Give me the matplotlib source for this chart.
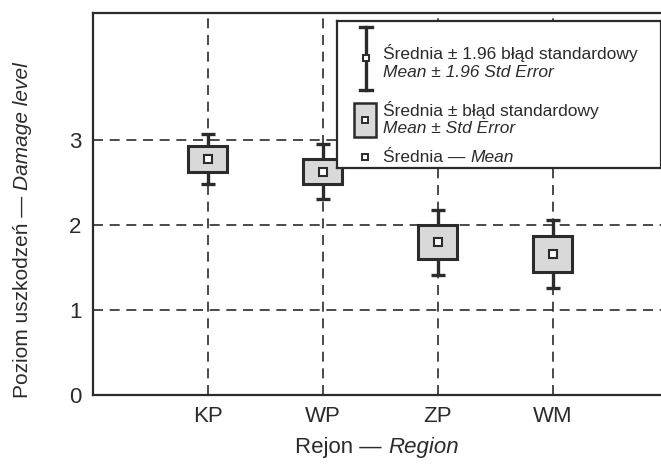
import numpy as np
import matplotlib
matplotlib.use("Agg")
import matplotlib.pyplot as plt
from matplotlib.patches import Rectangle

plt.rcParams['font.family'] = ['Liberation Sans', 'DejaVu Sans']

# dane
regiony = ["KP", "WP", "ZP", "WM"]
srednia = [2.78, 2.63, 1.80, 1.66]
blad_std = [0.15, 0.15, 0.20, 0.21]
blad_196 = [0.29, 0.32, 0.38, 0.40]
y_ticks = [0, 1, 2, 3]

kolor = "#2b2b2b"
szary = "#d9d9d9"
W, H = 661, 465

fig = plt.figure(figsize=(W / 100, H / 100), dpi=100)
ax = fig.add_axes([0.1402, 0.1499, 0.8598, 0.8211])
renderer = fig.canvas.get_renderer()

x = np.arange(1, len(regiony) + 1)

# siatka przerywana
for yy in y_ticks[1:]:
    ax.axhline(yy, color=kolor, lw=1.2, ls=(0, (6, 4)), zorder=1)
for xx in x:
    ax.axvline(xx, color=kolor, lw=1.2, ls=(0, (6, 4)), zorder=1)

# wasy +- 1.96 SE
ax.errorbar(x, srednia, yerr=blad_196, fmt="none", ecolor=kolor,
            elinewidth=2.4, capsize=4.7, capthick=2.4, zorder=3)

# pudelka +- SE
szer = 0.34
for xi, m, s in zip(x, srednia, blad_std):
    ax.add_patch(Rectangle((xi - szer / 2, m - s), szer, 2 * s,
                           facecolor=szary, edgecolor=kolor, lw=2.2, zorder=4))

# srednia
ax.plot(x, srednia, "s", ms=6, mfc="white", mec=kolor, mew=1.5, zorder=5)

ax.set_xlim(0, 4.94)
ax.set_ylim(0, 4.49)
ax.set_xticks(x)
ax.set_xticklabels(regiony)
ax.set_yticks(y_ticks)
ax.tick_params(length=0, labelsize=16, colors=kolor, pad=8)
for sp in ["left", "bottom", "top"]:
    ax.spines[sp].set_color(kolor)
    ax.spines[sp].set_linewidth(1.6)
ax.spines["right"].set_visible(False)


def tekst_mieszany(cx, cy, czesci, fs, rot=0):
    """Tekst z czescia prosta i kursywa, wysrodkowany w pikselach (cx, cy)."""
    arty = [fig.text(0, 0, t, fontsize=fs, color=kolor, style=st, rotation=rot,
                     ha="left", va="center", rotation_mode="anchor")
            for t, st in czesci]
    dl = []
    for a in arty:
        bb = a.get_window_extent(renderer)
        dl.append(bb.height if rot else bb.width)
    pos = -sum(dl) / 2
    for a, d in zip(arty, dl):
        if rot:
            a.set_position((cx / W, (H - cy + pos) / H))
        else:
            a.set_position(((cx + pos) / W, (H - cy) / H))
        pos += d


tekst_mieszany(0.1402 * W + 0.8598 * W / 2, 447,
               [("Rejon — ", "normal"), ("Region", "italic")], 16)
tekst_mieszany(22, 230,
               [("Poziom uszkodzeń — ", "normal"), ("Damage level", "italic")], 15, rot=90)

# legenda rysowana recznie
lg = fig.add_axes([337 / W, 1 - 168 / H, (W - 337) / W, (168 - 21) / H])
lg.set_xlim(337, W)
lg.set_ylim(168, 21)
lg.set_xticks([])
lg.set_yticks([])
for sp in lg.spines.values():
    sp.set_color(kolor)
    sp.set_linewidth(1.6)
lg.set_zorder(10)
lg.set_facecolor("white")

lg.plot([366, 366], [27, 90], color=kolor, lw=2.4)
lg.plot([360, 372], [27, 27], color=kolor, lw=2.4)
lg.plot([360, 372], [90, 90], color=kolor, lw=2.4)
lg.plot([366], [58], "s", ms=5, mfc="white", mec=kolor, mew=1.4)
lg.add_patch(Rectangle((354, 103), 22, 34, facecolor=szary, edgecolor=kolor, lw=1.8))
lg.plot([365], [120], "s", ms=5, mfc="white", mec=kolor, mew=1.4)
lg.plot([365], [157], "s", ms=5, mfc="white", mec=kolor, mew=1.4)

fs = 12.5
lg.text(383, 53, "Średnia ± 1.96 błąd standardowy", fontsize=fs, color=kolor, va="center")
lg.text(383, 72, "Mean ± 1.96 Std Error", fontsize=fs, color=kolor, va="center", style="italic")
lg.text(383, 110, "Średnia ± błąd standardowy", fontsize=fs, color=kolor, va="center")
lg.text(383, 128, "Mean ± Std Error", fontsize=fs, color=kolor, va="center", style="italic")
t1 = lg.text(383, 157, "Średnia — ", fontsize=fs, color=kolor, va="center")
w1 = t1.get_window_extent(renderer).width
lg.text(383 + w1, 157, "Mean", fontsize=fs, color=kolor, va="center", style="italic")

fig.savefig("out.png", dpi=100)
